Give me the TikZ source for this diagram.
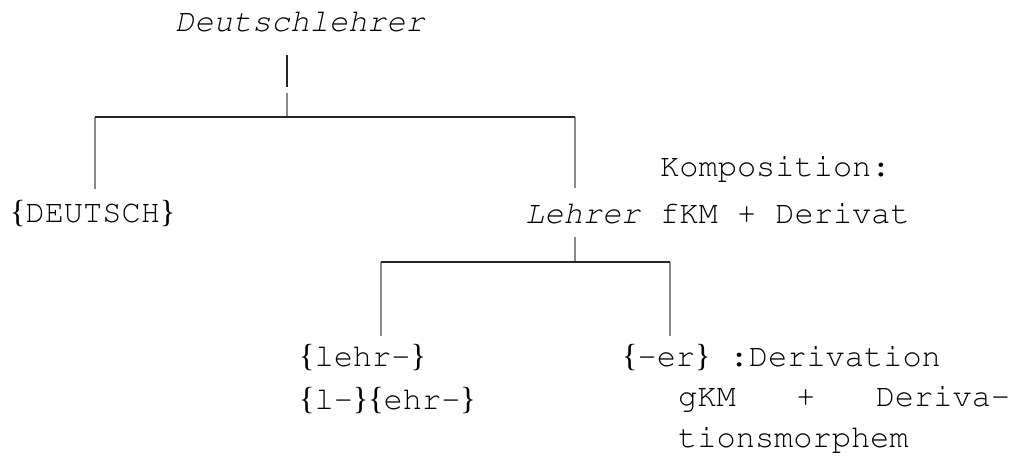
\documentclass[tikz,border=0pt]{standalone}
\usepackage{fontspec}
\usepackage[T1,TU]{fontenc}
\newfontfamily\bracefont{Liberation Serif}
% Courier for the morphological labels, serif braces around morphemes
\newcommand\cour{\fontencoding{T1}\fontfamily{pcr}\selectfont}
\newcommand\lb{{\bracefont\{}}
\newcommand\rb{{\bracefont\}}}
\definecolor{stemgray}{HTML}{8A8A8A}
\begin{document}
\begin{tikzpicture}[x=1pt,y=-1pt,
  lbl/.style={inner sep=0pt, anchor=base west, font=\cour\fontsize{32}{40}\selectfont},
  ilbl/.style={lbl, font=\cour\fontsize{32}{40}\selectfont\itshape},
  stem/.style={draw=stemgray, line width=2pt},
  bar/.style={draw=black!85, line width=1.1pt},
  head/.style={draw=black!85, line width=2.4pt}]
\useasboundingbox (0,0) rectangle (1012,471);

% labels
\node[ilbl] (root) at (175,31) {Deutschlehrer};
\node[lbl] (deutsch) at (10,222) {\lb DEUTSCH\rb};
\node[ilbl] (lehrer) at (525,223) {Lehrer};
\node[lbl] (komp) at (660,176) {Komposition:};
\node[lbl] (kompdef) at (660,223) {fKM + Derivat};
\node[lbl] (lehr) at (299,366) {\lb lehr-\rb};
\node[lbl] (lehrsplit) at (299,409) {\lb l-\rb\lb ehr-\rb};
\node[lbl] (er) at (622,366) {\lb -er\rb{} :Derivation};
\node[lbl] (erdefa) at (678,406) {\makebox[332pt][l]{gKM\hfill+\hfill Deriva-}};
\node[lbl] (erdefb) at (678,447) {tionsmorphem};

% junction points of the tree
\coordinate (roottop) at (287,55);
\coordinate (rootmid) at (287,87);
\coordinate (rootlow) at (287,93);
\coordinate (ja) at (287,117);
\coordinate (jal) at (95,117);
\coordinate (jar) at (575,117);
\coordinate (deutschtop) at (95,189);
\coordinate (lehrertop) at (575,188);
\coordinate (lehrerbot) at (575,237);
\coordinate (jb) at (575,262);
\coordinate (jbl) at (381,262);
\coordinate (jbr) at (670,262);
\coordinate (lehrtop) at (381,336);
\coordinate (ertop) at (670,336);

% branches
\draw[head] (roottop) -- (rootmid);
\draw[stem] (rootlow) -- (ja);
\draw[stem] (jal) -- (deutschtop);
\draw[stem] (jar) -- (lehrertop);
\draw[bar] (jal) -- (jar);
\draw[stem] (lehrerbot) -- (jb);
\draw[stem] (jbl) -- (lehrtop);
\draw[stem] (jbr) -- (ertop);
\draw[bar] (jbl) -- (jbr);
\end{tikzpicture}
\end{document}
